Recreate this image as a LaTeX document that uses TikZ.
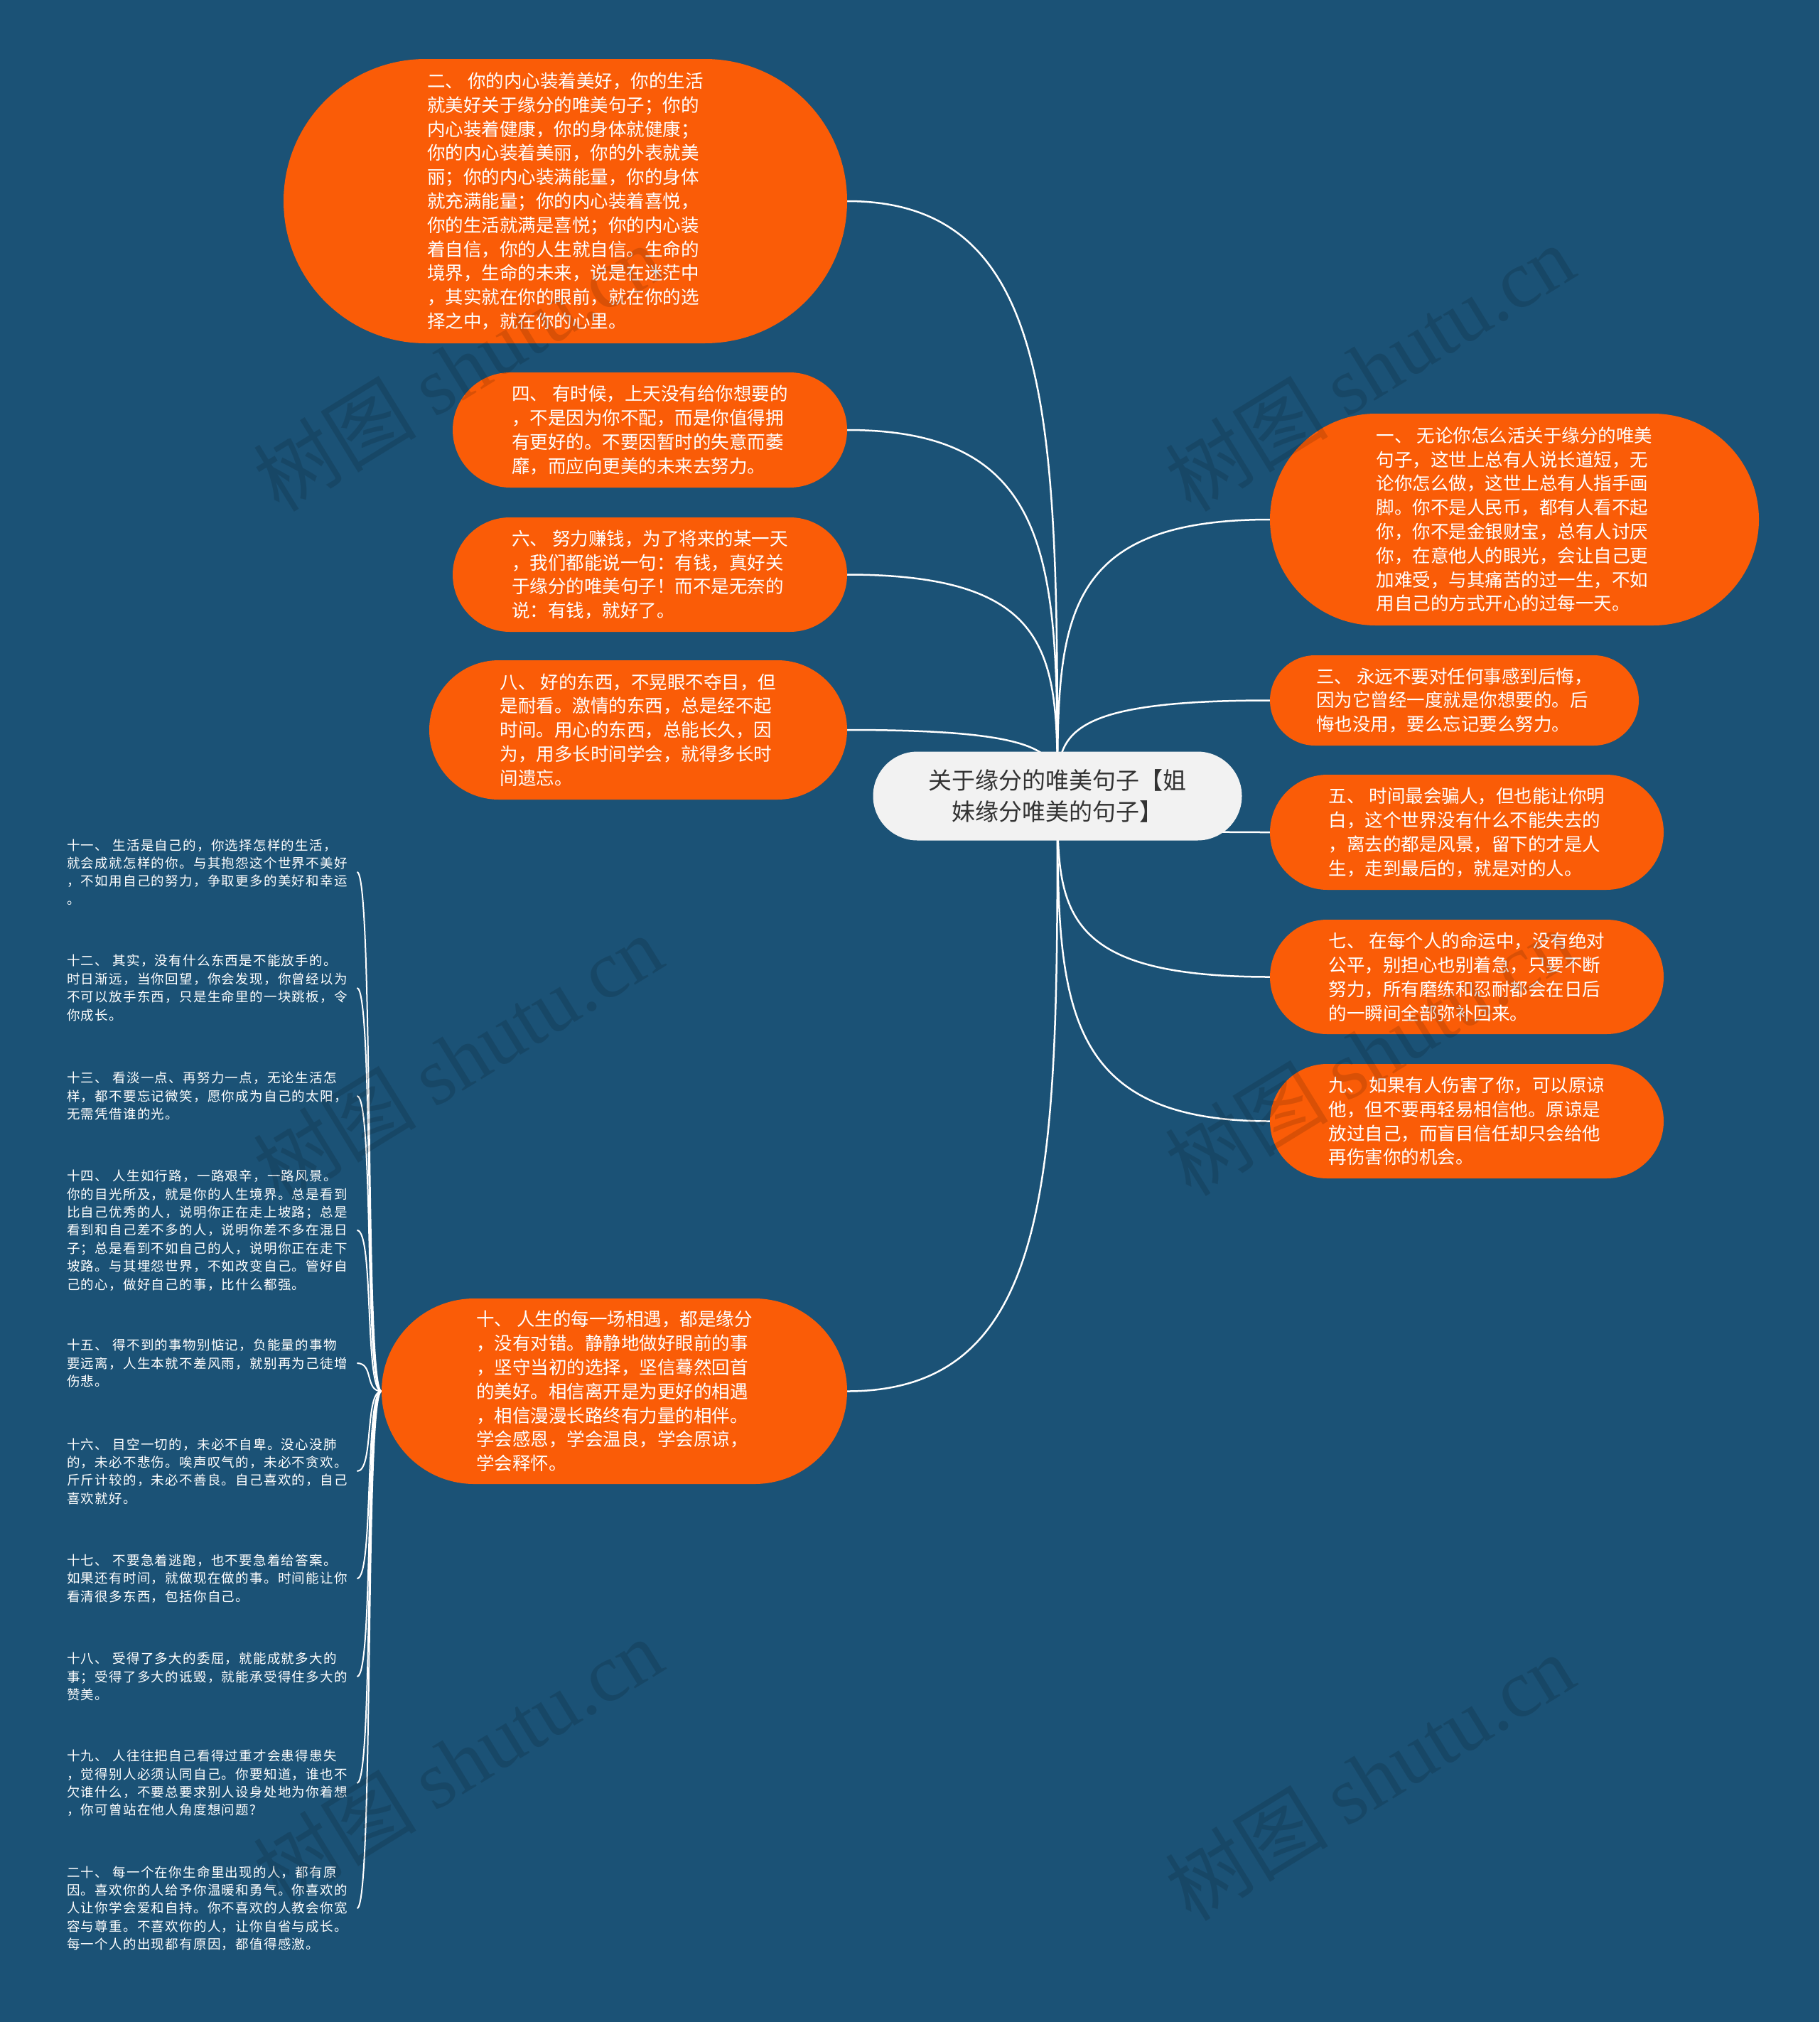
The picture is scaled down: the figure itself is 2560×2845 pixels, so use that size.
\documentclass[tikz,border=0pt]{standalone}
\usepackage{fontspec}
\setmainfont{Noto Sans CJK SC}
\newfontfamily\smallcjk[LetterSpace=7]{Noto Sans CJK SC}
\newfontfamily\wmlatin{Liberation Serif}
\usetikzlibrary{shapes.misc,calc}
\definecolor{bgblue}{RGB}{27,82,118}
\definecolor{orgfill}{RGB}{250,92,7}
\definecolor{rootfill}{RGB}{242,242,242}
\definecolor{roottext}{RGB}{51,51,51}
\pgfdeclarelayer{bglayer}
\pgfdeclarelayer{linelayer}
\pgfsetlayers{bglayer,linelayer,main}
\tikzset{
  leaf/.style={rounded rectangle, fill=orgfill, text=white, align=left, inner xsep=0pt, inner ysep=0pt, font=\fontsize{25.5}{33.8}\selectfont},
  rootnode/.style={rounded rectangle, fill=rootfill, text=roottext, align=center, inner sep=0pt, font=\fontsize{33}{43.5}\selectfont},
  item/.style={anchor=west, text=white, align=left, inner sep=4pt, text width=404pt, font=\smallcjk\fontsize{18.5}{25.4}\selectfont},
  linkst/.style={draw=white, line width=2.5pt},
  sublinkst/.style={draw=white, line width=2pt},
  wm/.style={text=black, text opacity=0.13, rotate=31.6, font=\fontsize{115}{120}\selectfont}
}
\newcommand\mmlink[2]{\draw[linkst] (#1) .. controls (#1 -| #2) and ($(#1 -| #2)!0.38!(#2)$) .. (#2);}
\newcommand\mmsub[1]{\draw[sublinkst] (#1.east) .. controls +(24,0) and +(-24,0) .. (n10.west);}
\begin{document}
\begin{tikzpicture}[x=1pt,y=-1pt]
\begin{pgfonlayer}{bglayer}
\fill[bgblue] (0,0) rectangle (2560,2845);
\end{pgfonlayer}
\useasboundingbox (0,0) rectangle (2560,2845);

\node[rootnode, minimum width=519pt, minimum height=125pt] (c) at (1488,1120) {关于缘分的唯美句子【姐\\妹缘分唯美的句子】};

\node[leaf, minimum width=793pt, minimum height=400pt] (n2) at (795.5,283) {二、 你的内心装着美好，你的生活\\
就美好关于缘分的唯美句子；你的\\
内心装着健康，你的身体就健康；\\
你的内心装着美丽，你的外表就美\\
丽；你的内心装满能量，你的身体\\
就充满能量；你的内心装着喜悦，\\
你的生活就满是喜悦；你的内心装\\
着自信，你的人生就自信。生命的\\
境界，生命的未来，说是在迷茫中\\
，其实就在你的眼前，就在你的选\\
择之中，就在你的心里。};

\node[leaf, minimum width=555pt, minimum height=162pt] (n4) at (914.5,605) {四、 有时候，上天没有给你想要的\\
，不是因为你不配，而是你值得拥\\
有更好的。不要因暂时的失意而萎\\
靡，而应向更美的未来去努力。};

\node[leaf, minimum width=555pt, minimum height=161pt] (n6) at (914.5,808.5) {六、 努力赚钱，为了将来的某一天\\
，我们都能说一句：有钱，真好关\\
于缘分的唯美句子！而不是无奈的\\
说：有钱，就好了。};

\node[leaf, minimum width=588pt, minimum height=196pt] (n8) at (898,1027) {八、 好的东西，不晃眼不夺目，但\\
是耐看。激情的东西，总是经不起\\
时间。用心的东西，总能长久，因\\
为，用多长时间学会，就得多长时\\
间遗忘。};

\node[leaf, minimum width=655pt, minimum height=261pt] (n10) at (864.5,1957.5) {十、 人生的每一场相遇，都是缘分\\
，没有对错。静静地做好眼前的事\\
，坚守当初的选择，坚信蓦然回首\\
的美好。相信离开是为更好的相遇\\
，相信漫漫长路终有力量的相伴。\\
学会感恩，学会温良，学会原谅，\\
学会释怀。};

\node[leaf, minimum width=688pt, minimum height=298pt] (n1) at (2131,731) {一、 无论你怎么活关于缘分的唯美\\
句子，这世上总有人说长道短，无\\
论你怎么做，这世上总有人指手画\\
脚。你不是人民币，都有人看不起\\
你，你不是金银财宝，总有人讨厌\\
你，在意他人的眼光，会让自己更\\
加难受，与其痛苦的过一生，不如\\
用自己的方式开心的过每一天。};

\node[leaf, minimum width=519pt, minimum height=127pt] (n3) at (2046.5,985.5) {三、 永远不要对任何事感到后悔，\\
因为它曾经一度就是你想要的。后\\
悔也没用，要么忘记要么努力。};

\node[leaf, minimum width=554pt, minimum height=162pt] (n5) at (2064,1171) {五、 时间最会骗人，但也能让你明\\
白，这个世界没有什么不能失去的\\
，离去的都是风景，留下的才是人\\
生，走到最后的，就是对的人。};

\node[leaf, minimum width=554pt, minimum height=161pt] (n7) at (2064,1374.5) {七、 在每个人的命运中，没有绝对\\
公平，别担心也别着急，只要不断\\
努力，所有磨练和忍耐都会在日后\\
的一瞬间全部弥补回来。};

\node[leaf, minimum width=554pt, minimum height=161pt] (n9) at (2064,1577.5) {九、 如果有人伤害了你，可以原谅\\
他，但不要再轻易相信他。原谅是\\
放过自己，而盲目信任却只会给他\\
再伤害你的机会。};

\node[item] (i11) at (90,1227) {十一、 生活是自己的，你选择怎样的生活，\\
就会成就怎样的你。与其抱怨这个世界不美好\\
，不如用自己的努力，争取更多的美好和幸运\\
。};
\node[item] (i12) at (90,1390) {十二、 其实，没有什么东西是不能放手的。\\
时日渐远，当你回望，你会发现，你曾经以为\\
不可以放手东西，只是生命里的一块跳板，令\\
你成长。};
\node[item] (i13) at (90,1542) {十三、 看淡一点、再努力一点，无论生活怎\\
样，都不要忘记微笑，愿你成为自己的太阳，\\
无需凭借谁的光。};
\node[item] (i14) at (90,1731) {十四、 人生如行路，一路艰辛，一路风景。\\
你的目光所及，就是你的人生境界。总是看到\\
比自己优秀的人，说明你正在走上坡路；总是\\
看到和自己差不多的人，说明你差不多在混日\\
子；总是看到不如自己的人，说明你正在走下\\
坡路。与其埋怨世界，不如改变自己。管好自\\
己的心，做好自己的事，比什么都强。};
\node[item] (i15) at (90,1918) {十五、 得不到的事物别惦记，负能量的事物\\
要远离，人生本就不差风雨，就别再为己徒增\\
伤悲。};
\node[item] (i16) at (90,2070) {十六、 目空一切的，未必不自卑。没心没肺\\
的，未必不悲伤。唉声叹气的，未必不贪欢。\\
斤斤计较的，未必不善良。自己喜欢的，自己\\
喜欢就好。};
\node[item] (i17) at (90,2221) {十七、 不要急着逃跑，也不要急着给答案。\\
如果还有时间，就做现在做的事。时间能让你\\
看清很多东西，包括你自己。};
\node[item] (i18) at (90,2359) {十八、 受得了多大的委屈，就能成就多大的\\
事；受得了多大的诋毁，就能承受得住多大的\\
赞美。};
\node[item] (i19) at (90,2509) {十九、 人往往把自己看得过重才会患得患失\\
，觉得别人必须认同自己。你要知道，谁也不\\
欠谁什么，不要总要求别人设身处地为你着想\\
，你可曾站在他人角度想问题?};
\node[item] (i20) at (90,2685) {二十、 每一个在你生命里出现的人，都有原\\
因。喜欢你的人给予你温暖和勇气。你喜欢的\\
人让你学会爱和自持。你不喜欢的人教会你宽\\
容与尊重。不喜欢你的人，让你自省与成长。\\
每一个人的出现都有原因，都值得感激。};

\begin{pgfonlayer}{linelayer}
\mmlink{n2.east}{c.center}
\mmlink{n4.east}{c.center}
\mmlink{n6.east}{c.center}
\mmlink{n8.east}{c.center}
\mmlink{n10.east}{c.center}
\mmlink{n1.west}{c.center}
\mmlink{n3.west}{c.center}
\mmlink{n5.west}{c.center}
\mmlink{n7.west}{c.center}
\mmlink{n9.west}{c.center}
\mmsub{i11}
\mmsub{i12}
\mmsub{i13}
\mmsub{i14}
\mmsub{i15}
\mmsub{i16}
\mmsub{i17}
\mmsub{i18}
\mmsub{i19}
\mmsub{i20}
\end{pgfonlayer}

\node[wm] (w1) at (644,517) {树图 {\wmlatin shutu.cn}};
\node[wm] (w2) at (1927,517) {树图 {\wmlatin shutu.cn}};
\node[wm] (w3) at (644,1488) {树图 {\wmlatin shutu.cn}};
\node[wm] (w4) at (1927,1480) {树图 {\wmlatin shutu.cn}};
\node[wm] (w5) at (644,2478) {树图 {\wmlatin shutu.cn}};
\node[wm] (w6) at (1927,2500) {树图 {\wmlatin shutu.cn}};
\end{tikzpicture}
\end{document}
